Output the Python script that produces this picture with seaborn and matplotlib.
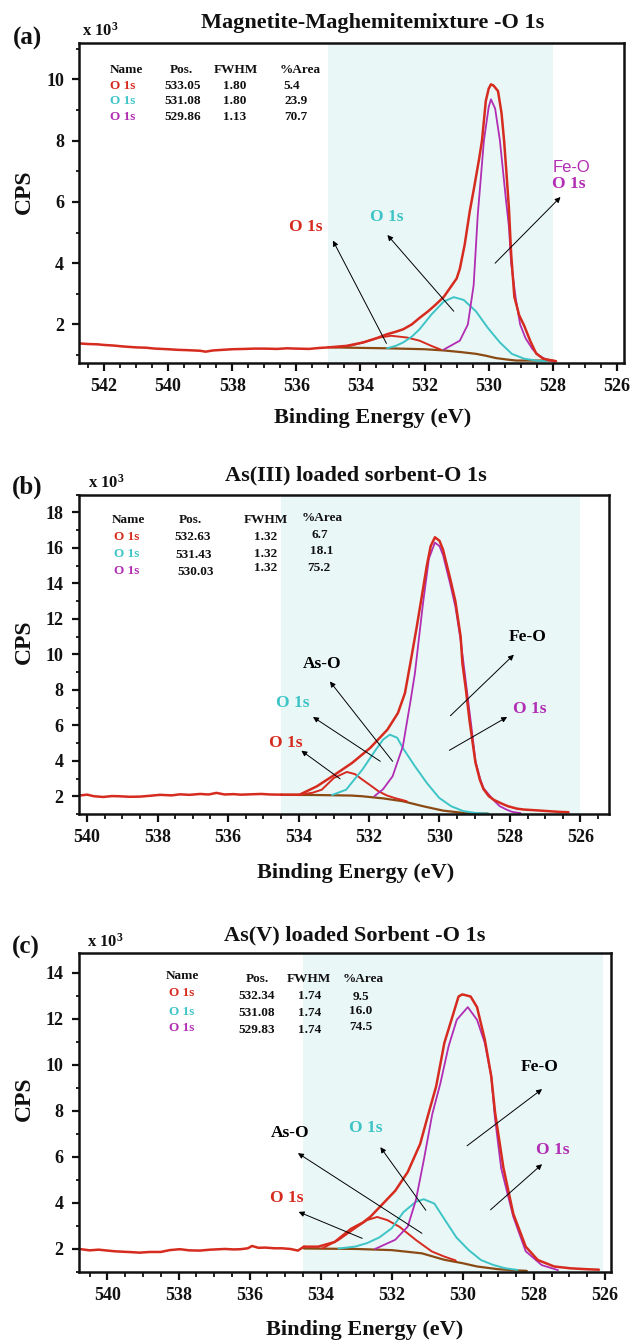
import matplotlib
matplotlib.use("Agg")
import matplotlib.pyplot as plt
import seaborn as sns
from matplotlib.ticker import MultipleLocator

# ---------------- panel (a) data (CPS in thousands) ----------------
A_RAW_E = [542.77, 542.5, 542.2, 542.0, 541.7, 541.4, 541.0, 540.7, 540.4, 540.0, 539.7, 539.4,
           539.0, 538.83, 538.6, 538.3, 538.0, 537.6, 537.3, 537.0, 536.6, 536.3, 536.0, 535.6,
           535.3, 535.0]
A_RAW_CPS = [1.38, 1.36, 1.35, 1.33, 1.31, 1.28, 1.25, 1.24, 1.21, 1.19, 1.17, 1.16,
             1.14, 1.11, 1.15, 1.17, 1.19, 1.2, 1.21, 1.21, 1.2, 1.22, 1.21, 1.2,
             1.23, 1.25]
A_ENV_E = [535.0, 534.43, 533.92, 533.5, 533.17, 532.9, 532.67, 532.4, 532.16, 531.9, 531.66,
           531.4, 531.2, 531.0, 530.9, 530.75, 530.59, 530.45, 530.3, 530.21, 530.09, 530.0,
           529.93, 529.85, 529.71, 529.6, 529.52, 529.45, 529.37, 529.3, 529.2, 529.05, 528.89,
           528.7, 528.52, 528.3, 528.01, 527.9]
A_ENV_CPS = [1.25, 1.3, 1.41, 1.55, 1.68, 1.76, 1.84, 2.0, 2.21, 2.42, 2.64,
             2.9, 3.2, 3.5, 3.82, 4.6, 5.7, 6.5, 7.4, 8.0, 9.3, 9.7,
             9.84, 9.8, 9.62, 8.9, 8.0, 7.0, 5.8, 4.3, 2.9, 2.3, 1.95,
             1.45, 1.05, 0.88, 0.82, 0.8]
A_FEO_E = [531.4, 530.9, 530.65, 530.47, 530.34, 530.15, 530.0, 529.93, 529.8, 529.65, 529.46,
           529.37, 529.3, 529.15, 529.02, 528.85, 528.64, 528.45, 528.26, 527.95]
A_FEO_CPS = [1.18, 1.47, 2.0, 3.28, 5.6, 8.0, 9.1, 9.35, 9.05, 8.0, 6.05,
             5.2, 4.0, 2.8, 2.0, 1.55, 1.2, 1.0, 0.88, 0.78]
A_C2_E = [533.17, 532.9, 532.67, 532.4, 532.16, 531.79, 531.4, 531.09, 530.78, 530.4, 530.03,
          529.65, 529.28, 528.89, 528.52, 528.2]
A_C2_CPS = [1.22, 1.3, 1.41, 1.6, 1.84, 2.32, 2.75, 2.89, 2.8, 2.43, 1.89,
            1.41, 1.04, 0.88, 0.82, 0.8]
A_C1_E = [534.8, 534.3, 533.92, 533.42, 533.04, 532.54, 532.16, 531.79, 531.5]
A_C1_CPS = [1.25, 1.31, 1.41, 1.57, 1.63, 1.57, 1.47, 1.3, 1.18]
A_BG_E = [534.93, 533.17, 532.0, 531.4, 530.9, 530.4, 530.1, 529.77, 529.4, 529.14, 528.5, 528.0]
A_BG_CPS = [1.25, 1.22, 1.19, 1.15, 1.1, 1.04, 0.98, 0.9, 0.85, 0.82, 0.82, 0.82]
A_POS = ["533.05", "531.08", "529.86"]
A_FWHM = ["1.80", "1.80", "1.13"]
A_AREA = ["5.4", "23.9", "70.7"]

# ---------------- panel (b) data ----------------
B_RAW_E = [540.23, 540.0, 539.8, 539.54, 539.3, 539.08, 538.8, 538.5, 538.2, 537.93, 537.6,
           537.36, 537.1, 536.79, 536.55, 536.33, 536.1, 535.85, 535.64, 535.35, 535.06,
           534.8, 534.49]
B_RAW_CPS = [2.04, 2.09, 2.0, 1.96, 2.01, 2.0, 1.97, 1.98, 2.03, 2.08, 2.05,
             2.11, 2.08, 2.13, 2.1, 2.19, 2.1, 2.12, 2.09, 2.11, 2.13,
             2.1, 2.09]
B_ENV_E = [534.49, 533.97, 533.48, 532.97, 532.48, 531.97, 531.48, 531.18, 530.98, 530.82,
           530.65, 530.5, 530.36, 530.25, 530.13, 530.0, 529.9, 529.7, 529.55, 529.4, 529.35,
           529.25, 529.15, 528.98, 528.85, 528.75, 528.6, 528.46, 528.25, 528.06, 527.8, 527.6,
           527.2, 526.9, 526.6, 526.34]
B_ENV_CPS = [2.09, 2.09, 2.56, 3.22, 3.88, 4.72, 5.75, 6.69, 7.82, 9.58,
             11.5, 13.3, 15.0, 16.1, 16.6, 16.4, 15.9, 14.3, 13.0, 11.0, 9.5,
             8.0, 6.3, 3.9, 2.9, 2.4, 2.0, 1.8, 1.6, 1.44, 1.3, 1.25,
             1.2, 1.16, 1.12, 1.1]
B_FEO_E = [531.85, 531.6, 531.33, 531.04, 530.82, 530.7, 530.47, 530.3, 530.13, 530.0, 529.9,
           529.7, 529.55, 529.4, 529.3, 529.2, 529.1, 528.98, 528.85, 528.75, 528.58, 528.45,
           528.29, 528.1, 527.94, 527.7]
B_FEO_CPS = [2.0, 2.4, 3.13, 4.81, 7.4, 8.9, 12.85, 15.4, 16.3, 16.1, 15.6,
             14.0, 12.7, 10.8, 9.2, 7.6, 6.0, 4.0, 3.0, 2.45, 2.05, 1.75,
             1.44, 1.25, 1.12, 1.05]
B_C2_E = [533.05, 532.65, 532.19, 531.85, 531.6, 531.41, 531.2, 531.04, 530.7, 530.36, 530.01,
          529.67, 529.32, 528.98, 528.6]
B_C2_CPS = [2.07, 2.37, 3.5, 4.5, 5.2, 5.47, 5.3, 4.72, 3.7, 2.75, 1.91,
            1.44, 1.16, 1.06, 1.02]
B_C1_E = [534.0, 533.6, 533.34, 533.0, 532.63, 532.4, 532.19, 531.95, 531.73, 531.5, 531.27, 530.93]
B_C1_CPS = [2.08, 2.2, 2.37, 3.03, 3.37, 3.25, 2.94, 2.6, 2.28, 2.05, 1.9, 1.72]
B_BG_E = [534.49, 533.5, 532.5, 532.19, 531.6, 531.04, 530.47, 529.9, 529.32, 528.63]
B_BG_CPS = [2.08, 2.07, 2.04, 2.0, 1.88, 1.72, 1.44, 1.19, 1.06, 1.02]
B_POS = ["532.63", "531.43", "530.03"]
B_FWHM = ["1.32", "1.32", "1.32"]
B_AREA = ["6.7", "18.1", "75.2"]

# ---------------- panel (c) data ----------------
C_RAW_E = [540.79, 540.5, 540.25, 540.0, 539.8, 539.56, 539.3, 539.1, 538.8, 538.5, 538.25,
           537.96, 537.7, 537.4, 537.1, 536.7, 536.45, 536.25, 536.05, 535.93, 535.75, 535.56,
           535.3, 535.1, 534.85, 534.64, 534.47]
C_RAW_CPS = [2.0, 1.94, 1.97, 1.93, 1.9, 1.88, 1.86, 1.84, 1.87, 1.87, 1.95,
             1.99, 1.94, 1.93, 1.97, 2.0, 1.98, 1.99, 2.03, 2.13, 2.05, 2.06,
             2.03, 2.03, 2.0, 1.93, 2.1]
C_ENV_E = [534.47, 534.07, 533.61, 533.15, 532.81, 532.6, 532.35, 531.9, 531.55, 531.2, 530.98,
           530.75, 530.52, 530.29, 530.12, 530.02, 529.95, 529.78, 529.6, 529.38, 529.2, 529.09,
           528.86, 528.58, 528.23, 527.89, 527.43, 526.97, 526.5, 526.17]
C_ENV_CPS = [2.1, 2.1, 2.3, 2.87, 3.15, 3.4, 3.8, 4.53, 5.34, 6.56, 7.8,
             9.06, 10.94, 12.1, 12.96, 13.05, 13.03, 12.96, 12.5, 11.08, 9.5, 7.9,
             5.55, 3.53, 2.1, 1.52, 1.24, 1.16, 1.12, 1.1]
C_FEO_E = [532.47, 531.9, 531.55, 531.32, 531.1, 530.86, 530.63, 530.4, 530.17, 529.86, 529.6,
           529.38, 529.2, 529.1, 528.92, 528.58, 528.23, 527.78, 527.32]
C_FEO_CPS = [2.0, 2.4, 2.97, 4.12, 5.84, 7.85, 9.2, 10.8, 11.95, 12.5, 11.95,
             10.94, 9.5, 7.75, 5.5, 3.4, 1.9, 1.3, 1.08]
C_C2_E = [533.5, 533.04, 532.7, 532.35, 532.0, 531.67, 531.32, 531.1, 530.8, 530.52, 530.18,
          529.84, 529.49, 529.15, 528.8, 528.46]
C_C2_CPS = [2.02, 2.1, 2.25, 2.5, 2.9, 3.6, 4.05, 4.16, 3.97, 3.3, 2.5,
            1.96, 1.52, 1.31, 1.16, 1.09]
C_C1_E = [533.96, 533.5, 533.04, 532.7, 532.41, 532.12, 531.78, 531.32, 530.87, 530.52, 530.2]
C_C1_CPS = [2.02, 2.39, 2.89, 3.25, 3.39, 3.25, 2.96, 2.39, 1.89, 1.67, 1.5]
C_BG_E = [534.47, 533.0, 532.0, 531.15, 530.52, 530.0, 529.6, 529.0, 528.5, 528.2]
C_BG_CPS = [2.02, 2.0, 1.95, 1.81, 1.53, 1.38, 1.24, 1.12, 1.07, 1.05]
C_POS = ["532.34", "531.08", "529.83"]
C_FWHM = ["1.74", "1.74", "1.74"]
C_AREA = ["9.5", "16.0", "74.5"]

TITLES = ["Magnetite-Maghemitemixture -O 1s", "As(III) loaded sorbent-O 1s",
          "As(V) loaded Sorbent -O 1s"]
PANEL_TAGS = ["(a)", "(b)", "(c)"]

# ---------------- style ----------------
RED = "#d62b1f"
CYAN = "#3ec4c6"
MAG = "#b12db3"
BROWN = "#8a4a14"
SHADE = "#eaf7f7"

sns.set_theme(style="ticks")
plt.rcParams.update({
    "font.family": ["Liberation Serif", "DejaVu Serif"],
    "font.weight": "bold",
    "mathtext.fontset": "custom",
    "mathtext.rm": "Liberation Serif:bold",
    "mathtext.it": "Liberation Serif:bold",
    "mathtext.bf": "Liberation Serif:bold",
    "axes.linewidth": 1.8,
    "axes.edgecolor": "#111111",
    "text.color": "#111111",
    "xtick.color": "#111111",
    "ytick.color": "#111111",
})

W, H = 632, 1342
fig = plt.figure(figsize=(W / 100, H / 100), dpi=100)


def fx(px):
    return px / W


def fy(py):
    return 1 - py / H


def make_axes(left, right, top, bottom):
    return fig.add_axes([fx(left), fy(bottom), (right - left) / W, (bottom - top) / H])


axA = make_axes(79.3, 624, 42.7, 362.7)
axB = make_axes(79, 609, 494.7, 814)
axC = make_axes(79, 611, 953, 1272)


def line(ax, e, c, color, lw):
    sns.lineplot(x=e, y=c, ax=ax, color=color, linewidth=lw, sort=False,
                 estimator=None, legend=False)


def draw(ax, xlim, ylim, shade, raw, env, bg, c1, c2, feo, ymajor, xmin_major):
    ax.axvspan(shade[0], shade[1], color=SHADE, zorder=0, lw=0)
    line(ax, bg[0], bg[1], BROWN, 1.6)
    line(ax, c1[0], c1[1], RED, 1.4)
    line(ax, c2[0], c2[1], CYAN, 1.4)
    line(ax, feo[0], feo[1], MAG, 1.3)
    line(ax, raw[0], raw[1], RED, 1.8)
    line(ax, env[0], env[1], RED, 1.8)
    ax.set_xlim(*xlim)
    ax.set_ylim(*ylim)
    ax.xaxis.set_major_locator(MultipleLocator(2))
    ax.xaxis.set_minor_locator(MultipleLocator(0.5))
    ax.yaxis.set_major_locator(MultipleLocator(ymajor))
    ax.yaxis.set_minor_locator(MultipleLocator(1))
    ax.tick_params(axis="x", which="major", direction="out", length=6, width=1.6,
                   labelsize=13, pad=5)
    ax.tick_params(axis="x", which="minor", direction="out", length=3.5, width=1.3)
    ax.tick_params(axis="y", which="major", direction="out", length=5, width=1.6,
                   labelsize=13, pad=6)
    ax.tick_params(axis="y", which="minor", direction="out", length=2.5, width=1.3)
    ax.set_xlabel("")
    ax.set_ylabel("")
    for s in ax.spines.values():
        s.set_linewidth(1.8)
        s.set_visible(True)


def table(ax, cols, header_y, rows_y, names_x, pos, fwhm, area, cols_rows=None):
    hx = cols
    fs = 9.5
    ax.text(hx[0], header_y[0], "Name", ha="center", va="center", fontsize=fs)
    ax.text(hx[1], header_y[1], "Pos.", ha="center", va="center", fontsize=fs)
    ax.text(hx[2], header_y[2], "FWHM", ha="center", va="center", fontsize=fs)
    ax.text(hx[3], header_y[3], "%Area", ha="center", va="center", fontsize=fs)
    for i, col in enumerate([RED, CYAN, MAG]):
        ax.text(names_x, rows_y[0][i], "O 1s", color=col, ha="center", va="center", fontsize=fs)
        ax.text(cols_rows[0][i], rows_y[1][i], pos[i], ha="center", va="center", fontsize=fs)
        ax.text(cols_rows[1][i], rows_y[2][i], fwhm[i], ha="center", va="center", fontsize=fs)
        ax.text(cols_rows[2][i], rows_y[3][i], area[i], ha="center", va="center", fontsize=fs)


def arrow(ax, tail, tip):
    ax.annotate("", xy=tip, xytext=tail,
                arrowprops=dict(arrowstyle="-|>", color="black", lw=0.7,
                                mutation_scale=8, shrinkA=0, shrinkB=0))


# ---- panel (a)
draw(axA, (542.77, 525.78), (0.75, 11.2), (535.0, 528.0),
     (A_RAW_E, A_RAW_CPS), (A_ENV_E, A_ENV_CPS), (A_BG_E, A_BG_CPS),
     (A_C1_E, A_C1_CPS), (A_C2_E, A_C2_CPS), (A_FEO_E, A_FEO_CPS), 2, 2)
table(axA, [541.3, 539.58, 537.89, 535.87], [10.32] * 4,
      [[9.78, 9.28, 8.76]] * 4, 541.43, A_POS, A_FWHM, A_AREA,
      cols_rows=[[539.55] * 3, [537.91] * 3, [536.13, 536.0, 536.0]])
axA.text(535.72, 5.17, "O 1s", color=RED, ha="center", va="center", fontsize=12.5)
arrow(axA, (533.19, 1.38), (534.86, 4.74))
axA.text(533.19, 5.5, "O 1s", color=CYAN, ha="center", va="center", fontsize=12.5)
arrow(axA, (531.09, 2.43), (533.16, 4.92))
axA.text(528.02, 7.14, "Fe-O", color=MAG, ha="left", va="center", fontsize=12,
         family=["Liberation Sans", "DejaVu Sans"], fontweight="normal")
axA.text(528.02, 6.59, "O 1s", color=MAG, ha="left", va="center", fontsize=12.5)
arrow(axA, (529.8, 4.0), (527.76, 6.16))

# ---- panel (b)
draw(axB, (540.23, 525.19), (1.0, 19.0), (534.5, 526.0),
     (B_RAW_E, B_RAW_CPS), (B_ENV_E, B_ENV_CPS), (B_BG_E, B_BG_CPS),
     (B_C1_E, B_C1_CPS), (B_C2_E, B_C2_CPS), (B_FEO_E, B_FEO_CPS), 2, 2)
table(axB, [538.83, 537.07, 534.93, 533.34], [17.58, 17.58, 17.58, 17.67],
      [[16.62, 15.65, 14.71], [16.62, 15.6, 14.65], [16.64, 15.65, 14.85], [16.75, 15.8, 14.85]],
      538.87, B_POS, B_FWHM, B_AREA,
      cols_rows=[[537.01, 536.99, 536.92], [534.93] * 3, [533.4, 533.34, 533.43]])
axB.text(533.34, 9.44, "As-O", color="black", ha="center", va="center", fontsize=12.5)
arrow(axB, (531.33, 3.97), (533.11, 8.47))
axB.text(534.17, 7.25, "O 1s", color=CYAN, ha="center", va="center", fontsize=12.5)
arrow(axB, (531.68, 3.97), (533.59, 6.47))
axB.text(534.35, 5.0, "O 1s", color=RED, ha="center", va="center", fontsize=12.5)
arrow(axB, (532.82, 2.98), (533.92, 4.57))
axB.text(527.49, 10.95, "Fe-O", color="black", ha="center", va="center", fontsize=12.5)
arrow(axB, (529.69, 6.54), (527.89, 9.98))
axB.text(527.43, 6.92, "O 1s", color=MAG, ha="center", va="center", fontsize=12.5)
arrow(axB, (529.72, 4.59), (528.08, 6.47))

# ---- panel (c)
draw(axC, (540.8, 525.83), (1.0, 14.85), (534.5, 526.06),
     (C_RAW_E, C_RAW_CPS), (C_ENV_E, C_ENV_CPS), (C_BG_E, C_BG_CPS),
     (C_C1_E, C_C1_CPS), (C_C2_E, C_C2_CPS), (C_FEO_E, C_FEO_CPS), 2, 2)
table(axC, [537.88, 535.79, 534.32, 532.81], [13.83, 13.71, 13.71, 13.71],
      [[13.1, 12.31, 11.59], [13.0, 12.24, 11.49], [13.0, 12.24, 11.49], [12.96, 12.34, 11.62]],
      537.9, C_POS, C_FWHM, C_AREA,
      cols_rows=[[535.79] * 3, [534.32] * 3, [532.87] * 3])
axC.text(534.85, 7.02, "As-O", color="black", ha="center", va="center", fontsize=12.5)
arrow(axC, (531.15, 2.68), (534.64, 6.16))
axC.text(532.72, 7.25, "O 1s", color=CYAN, ha="center", va="center", fontsize=12.5)
arrow(axC, (531.04, 3.68), (532.32, 6.42))
axC.text(534.96, 4.23, "O 1s", color=RED, ha="center", va="center", fontsize=12.5)
arrow(axC, (532.83, 2.46), (534.62, 3.61))
axC.text(527.83, 9.9, "Fe-O", color="black", ha="center", va="center", fontsize=12.5)
arrow(axC, (529.88, 6.48), (527.77, 8.94))
axC.text(527.48, 6.30, "O 1s", color=MAG, ha="center", va="center", fontsize=12.5)
arrow(axC, (529.22, 3.7), (527.77, 5.68))

# ---- figure level texts
title_pos = [(373, 23), (356, 475), (355, 935)]
tag_pos = [(13, 38), (12, 487), (12, 947)]
exp_pos = [(82, 31), (88, 483), (87, 942)]
xlabel_pos = [(373, 418), (356, 873), (365, 1330)]
cps_pos = [(24, 192), (24, 642), (24, 1099)]
for i in range(3):
    fig.text(fx(title_pos[i][0]), fy(title_pos[i][1]), TITLES[i], ha="center", va="center",
             fontsize=16)
    fig.text(fx(tag_pos[i][0]), fy(tag_pos[i][1]), PANEL_TAGS[i], ha="left", va="center",
             fontsize=18)
    fig.text(fx(exp_pos[i][0]), fy(exp_pos[i][1]), r"x 10$^{3}$", ha="left", va="center",
             fontsize=12)
    fig.text(fx(xlabel_pos[i][0]), fy(xlabel_pos[i][1]), "Binding Energy (eV)", ha="center",
             va="center", fontsize=16)
    fig.text(fx(cps_pos[i][0]), fy(cps_pos[i][1]), "CPS", ha="center", va="center",
             rotation=90, fontsize=17)

fig.savefig("out.png", dpi=100)
